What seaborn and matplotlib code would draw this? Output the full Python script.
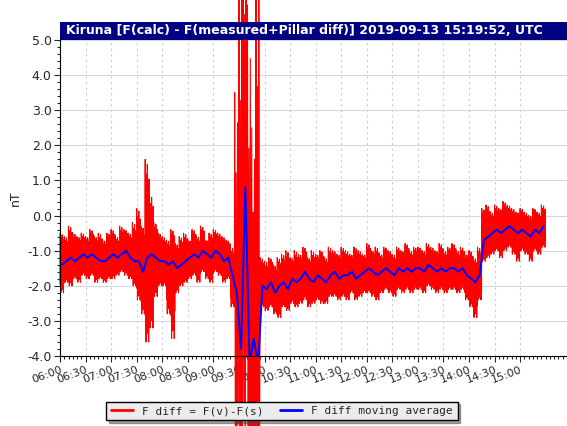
import numpy as np
import pandas as pd
import seaborn as sns
import matplotlib
matplotlib.use("Agg")
import matplotlib.pyplot as plt
from matplotlib.patches import Rectangle

# 5-minute steps starting 06:00
avg = [-1.4,-1.3,-1.2,-1.3,-1.2,-1.1,-1.2,-1.1,-1.2,-1.3,-1.3,-1.2,
       -1.1,-1.2,-1.1,-1.0,-1.2,-1.3,-1.3,-1.6,-1.2,-1.1,-1.2,-1.3,
       -1.3,-1.4,-1.3,-1.5,-1.4,-1.3,-1.2,-1.1,-1.2,-1.0,-1.1,-1.2,
       -1.0,-1.1,-1.3,-1.2,-1.7,-2.2,-3.8,0.8,-4.2,-3.5,-4.3,-2.0,
       -2.1,-1.9,-2.2,-2.0,-1.9,-2.1,-1.8,-1.9,-1.8,-1.6,-1.8,-1.9,
       -1.7,-1.8,-1.9,-1.7,-1.6,-1.8,-1.7,-1.7,-1.6,-1.8,-1.7,-1.6,
       -1.5,-1.6,-1.7,-1.6,-1.5,-1.6,-1.7,-1.5,-1.6,-1.5,-1.6,-1.5,
       -1.5,-1.6,-1.4,-1.5,-1.6,-1.5,-1.6,-1.5,-1.5,-1.6,-1.5,-1.7,
       -1.8,-1.9,-1.7,-0.7,-0.6,-0.5,-0.4,-0.5,-0.4,-0.3,-0.4,-0.5,
       -0.4,-0.5,-0.6,-0.4,-0.5,-0.3]
hi = [-0.5,-0.6,-0.3,-0.5,-0.6,-0.5,-0.6,-0.4,-0.6,-0.5,-0.7,-0.5,
      -0.4,-0.6,-0.3,-0.4,-0.5,-0.2,0.2,-0.3,1.6,0.6,-0.2,-0.5,
      -0.6,-0.7,-0.4,-0.8,-0.6,-0.5,-0.7,-0.4,-0.6,-0.3,-0.7,-0.5,
      -0.4,-0.5,-0.6,-0.7,-0.9,3.5,8.0,9.0,6.0,2.5,9.0,-1.2,
      -1.3,-1.2,-1.4,-1.2,-1.1,-1.0,-1.2,-1.0,-1.1,-0.9,-1.2,-1.0,
      -1.1,-1.0,-1.2,-0.9,-1.0,-1.1,-0.9,-1.0,-1.1,-0.9,-1.0,-1.1,
      -0.8,-1.0,-0.9,-1.1,-0.9,-1.0,-1.1,-0.9,-1.0,-0.8,-1.0,-0.9,
      -0.9,-1.0,-0.8,-0.9,-1.0,-0.8,-1.0,-0.9,-0.8,-1.0,-0.9,-1.1,
      -1.0,-1.2,-0.9,0.2,0.3,0.1,0.3,0.2,0.4,0.3,0.2,0.1,
      0.2,0.1,0.0,0.2,0.1,0.3]
lo = [-2.2,-1.9,-2.0,-1.8,-1.9,-1.7,-1.8,-1.7,-1.9,-1.8,-1.9,-1.8,
      -1.8,-1.7,-1.6,-1.7,-1.8,-2.0,-2.4,-2.8,-3.6,-3.2,-2.3,-2.0,
      -2.0,-2.8,-3.5,-2.2,-2.0,-1.9,-1.8,-1.7,-1.9,-1.6,-1.8,-1.9,
      -1.6,-1.7,-1.9,-1.8,-2.6,-9.0,-9.0,-8.0,-9.0,-9.0,-9.0,-2.6,
      -2.7,-2.6,-2.8,-2.9,-2.6,-2.7,-2.5,-2.6,-2.5,-2.4,-2.6,-2.5,
      -2.4,-2.5,-2.5,-2.3,-2.3,-2.4,-2.3,-2.4,-2.2,-2.4,-2.3,-2.2,
      -2.2,-2.3,-2.4,-2.2,-2.1,-2.2,-2.3,-2.1,-2.2,-2.1,-2.2,-2.1,
      -2.1,-2.2,-2.0,-2.1,-2.2,-2.1,-2.2,-2.1,-2.1,-2.2,-2.1,-2.4,
      -2.6,-2.9,-2.4,-1.3,-1.2,-1.1,-1.0,-1.2,-1.0,-0.9,-1.1,-1.3,
      -1.0,-1.1,-1.3,-1.0,-1.1,-0.9]
tick_labels = ["06:00","06:30","07:00","07:30","08:00","08:30","09:00","09:30","10:00",
               "10:30","11:00","11:30","12:00","12:30","13:00","13:30","14:00","14:30","15:00"]

t = 6 + np.arange(len(avg)) * 5 / 60
hi_a, lo_a, av_a = np.array(hi), np.array(lo), np.array(avg)
up_sc = [1.0, 0.6, 0.85, 0.5, 0.95, 0.7, 0.55, 0.8]
dn_sc = [0.7, 1.0, 0.55, 0.9, 0.6, 0.8, 1.0, 0.65]
red_t, red_v = [], []
for i in range(len(t)):
    storm = hi_a[i] > 2
    k = 3 if storm else 8
    for j in range(k):
        f = j / k
        red_t += [t[i] + f * 5/60, t[i] + (f + 0.5/k) * 5/60]
        red_v += [av_a[i] + up_sc[j] * (hi_a[i] - av_a[i]), av_a[i] + dn_sc[j] * (lo_a[i] - av_a[i])]
red = pd.DataFrame({"t": red_t, "v": red_v})
blue = pd.DataFrame({"t": t + 2.5/60, "v": avg})

sns.set_style("white")
fig = plt.figure(figsize=(5.67, 4.26), dpi=100)
ax = fig.add_axes([60/567, 70/426, 507/567, 316/426])
sns.lineplot(data=red, x="t", y="v", ax=ax, color="#ff0000", lw=0.8, sort=False, estimator=None,
             label="F diff = F(v)-F(s)", clip_on=False)
sns.lineplot(data=blue, x="t", y="v", ax=ax, color="#0000ff", lw=1.4, sort=False, estimator=None,
             label="F diff moving average")
ax.set_xlim(6, 15 + (567-543)/26.8*0.5)
ax.set_ylim(-4, 5)
ax.set_yticks(np.arange(-4, 5.01, 1))
ax.set_yticklabels([f"{v:.1f}" for v in np.arange(-4, 5.01, 1)], fontsize=9)
ax.set_yticks(np.arange(-4, 5.01, 0.2), minor=True)
ax.set_xticks(6 + np.arange(len(tick_labels)) * 0.5)
ax.set_xticklabels(tick_labels, rotation=20, fontsize=8, ha="right", rotation_mode="anchor")
ax.set_xticks(6 + np.arange(0, 10, 1/12), minor=True)
ax.tick_params(which="both", direction="out", left=True, bottom=True, length=4, width=0.8, pad=2)
ax.tick_params(which="minor", length=2)
ax.grid(axis="y", which="major", color="#d8d8d8", lw=0.8)
ax.grid(axis="x", which="major", color="#cccccc", lw=0.8, ls=(0, (2, 3)))
for s in ["top", "right"]:
    ax.spines[s].set_visible(False)
for s in ["left", "bottom"]:
    ax.spines[s].set_color("black")
ax.set_xlabel("")
ax.set_ylabel("nT", fontsize=9)
ax.set_axisbelow(True)

fig.patches.append(Rectangle((60/567, 386/426), 507/567, 18/426, transform=fig.transFigure,
                             facecolor="#000080", edgecolor="none", zorder=5))
fig.text(66/567, 395/426, "Kiruna [F(calc) - F(measured+Pillar diff)] 2019-09-13 15:19:52, UTC",
         color="white", fontweight="bold", fontsize=9, va="center", zorder=6)

leg = ax.legend(loc="center", bbox_to_anchor=(282/567, 15/426), bbox_transform=fig.transFigure,
                ncol=2, frameon=True, fancybox=False, shadow=True, prop={"family": "DejaVu Sans Mono", "size": 8},
                handlelength=2, columnspacing=1.5, borderpad=0.4)
for h in leg.get_lines():
    h.set_linewidth(2)
leg.get_frame().set_facecolor("#ececec")
leg.get_frame().set_edgecolor("black")
leg.get_frame().set_alpha(1)
leg.set_zorder(10)
fig.savefig("out.png", dpi=100)
